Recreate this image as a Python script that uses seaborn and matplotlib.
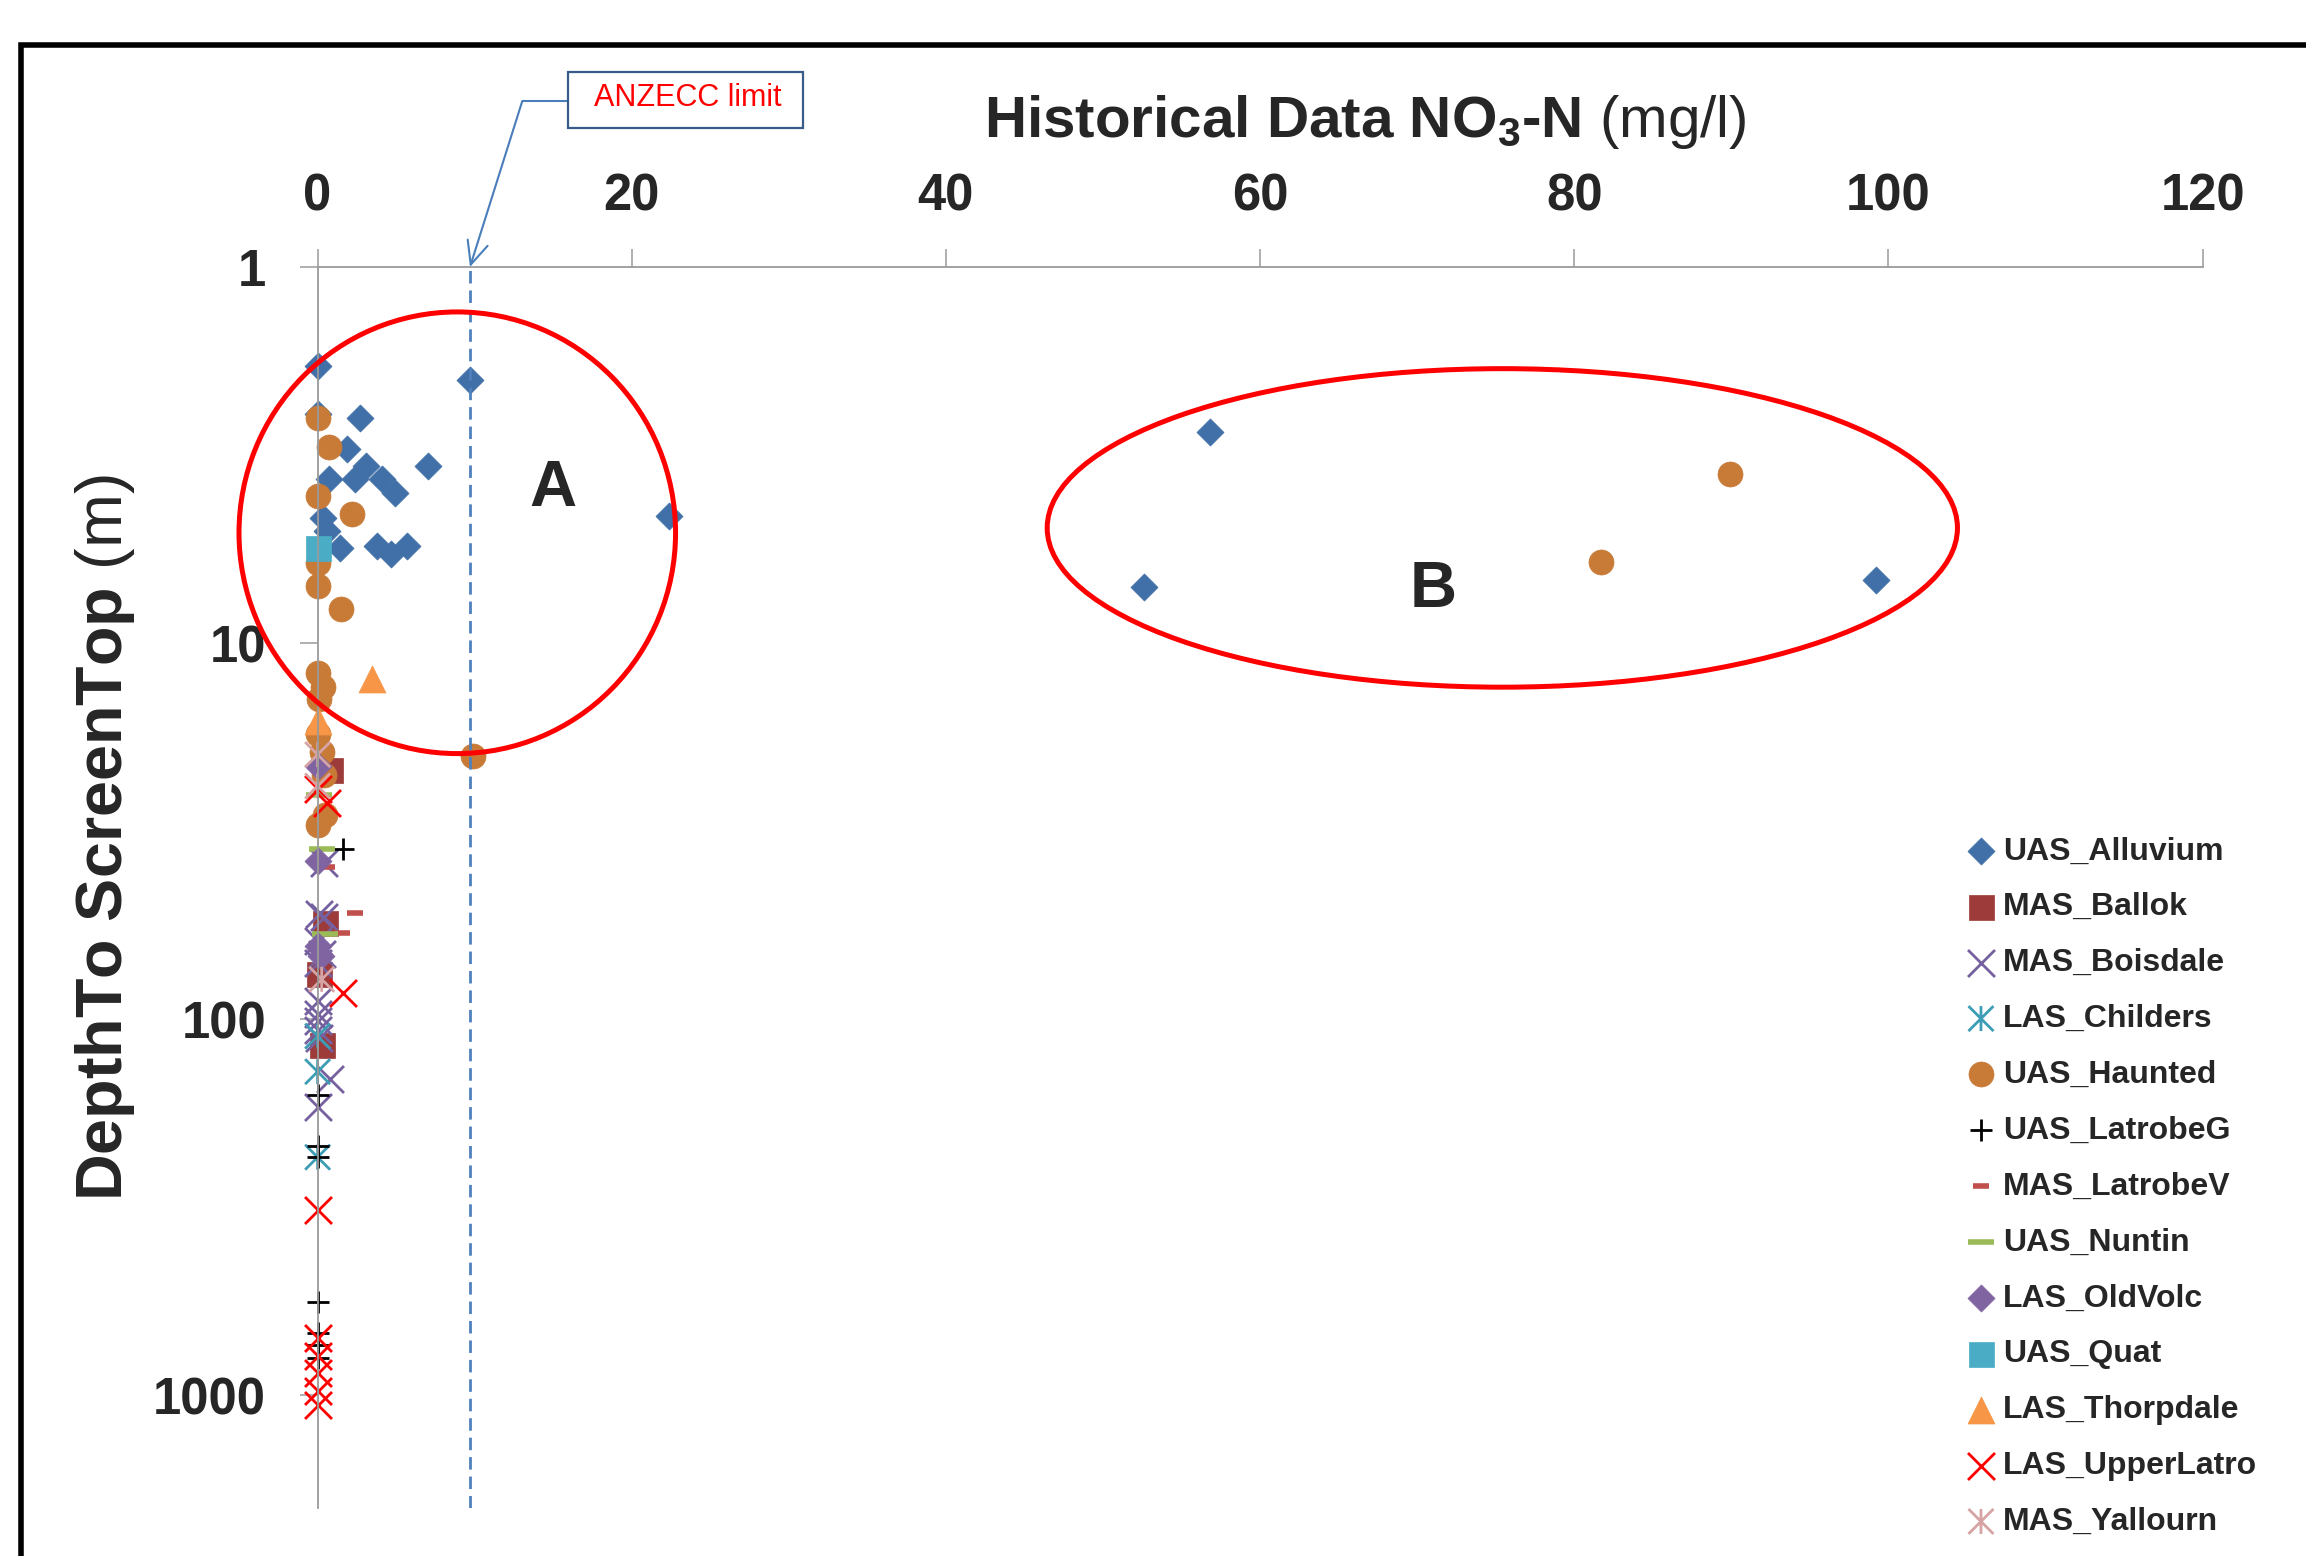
"""
Historical NO3-N vs depth to screen top, grouped by aquifer unit.
"""
import matplotlib
matplotlib.use('Agg')
import matplotlib.pyplot as plt
from matplotlib.patches import Ellipse, Rectangle
from matplotlib.markers import MarkerStyle
from matplotlib.path import Path
from matplotlib.ticker import NullLocator
import seaborn as sns

sns.set_style('white')
FAM = 'Liberation Sans'
plt.rcParams['font.family'] = [FAM, 'DejaVu Sans']
plt.rcParams['mathtext.fontset'] = 'custom'
plt.rcParams['mathtext.rm'] = FAM
plt.rcParams['mathtext.bf'] = FAM + ':bold'
plt.rcParams['mathtext.it'] = FAM + ':italic'

# ---- data (NO3-N mg/l, depth to screen top m) ----
SERIES = ['UAS_Alluvium', 'MAS_Ballok', 'MAS_Boisdale', 'LAS_Childers', 'UAS_Haunted',
          'UAS_LatrobeG', 'MAS_LatrobeV', 'UAS_Nuntin', 'LAS_OldVolc', 'UAS_Quat',
          'LAS_Thorpdale', 'LAS_UpperLatro', 'MAS_Yallourn']

alluvium_x = [0.0, 9.7, 0.0, 2.7, 1.85, 0.7, 2.4, 3.1, 4.1, 4.9, 7.05, 22.4, 0.36, 0.58,
              1.43, 3.76, 4.7, 5.67, 0.2, 56.8, 52.6, 99.2]
alluvium_y = [1.83, 2.0, 2.46, 2.52, 3.05, 3.67, 3.67, 3.38, 3.67, 3.98, 3.38, 4.59, 4.64, 5.04,
              5.58, 5.52, 5.81, 5.52, 5.6, 2.75, 7.1, 6.81]
ballok_x = [0.8, 0.47, 0.1, 0.26]
ballok_y = [21.8, 55.7, 76.0, 117.0]
boisdale_x = [0.4, 0.1, 0.4, 0.0, 0.3, 0.0, 0.0, 0.0, 0.0, 0.0, 0.1, 0.8, 0.0]
boisdale_y = [38.5, 52.7, 53.5, 62.0, 67.0, 71.0, 89.6, 97.0, 101.0, 107.0, 112.0, 144.0, 171.0]
childers_x = [0.0, 0.0, 0.0]
childers_y = [111.0, 138.0, 233.0]
haunted_x = [0.05, 0.7, 0.05, 2.2, 0.05, 0.05, 1.5, 0.05, 0.36, 0.1, 0.0, 0.3, 0.4, 9.9,
             0.5, 0.0, 89.9, 81.7]
haunted_y = [2.52, 3.02, 4.06, 4.54, 6.11, 7.05, 8.13, 12.0, 13.1, 14.1, 17.5, 19.5, 22.5, 20.0,
             28.6, 30.5, 3.56, 6.08]
latrobeg_x = [1.63, 0.0, 0.0, 0.0, 0.0, 0.0, 0.0, 0.0]
latrobeg_y = [35.4, 159.0, 218.0, 233.0, 567.0, 682.0, 736.0, 795.0]
latrobev_x = [0.58, 2.4, 1.53]
latrobev_y = [39.5, 52.2, 58.9]
nuntin_x = [0.1, 0.26, 0.47]
nuntin_y = [25.3, 35.4, 59.3]
oldvolc_x = [0.0, 0.0, 0.0, 0.2]
oldvolc_y = [21.2, 38.0, 64.0, 68.0]
quat_x = [0.05]
quat_y = [5.58]
thorpdale_x = [3.44, 0.0]
thorpdale_y = [12.5, 16.1]
upperlatro_x = [0.0, 0.58, 1.63, 0.0, 0.0, 0.0, 0.0, 0.0, 0.0]
upperlatro_y = [24.5, 26.6, 85.0, 322.0, 705.0, 785.0, 876.0, 976.0, 1064.0]
yallourn_x = [0.0, 0.0, 0.26]
yallourn_y = [19.8, 24.0, 78.4]

# the dashed limit line sits just left of the 10 mark in the original chart
ANZECC_LIMIT = 9.7
X_TICKS = [0, 20, 40, 60, 80, 100, 120]
Y_TICKS = [1, 10, 100, 1000]

XS = [alluvium_x, ballok_x, boisdale_x, childers_x, haunted_x, latrobeg_x, latrobev_x,
      nuntin_x, oldvolc_x, quat_x, thorpdale_x, upperlatro_x, yallourn_x]
YS = [alluvium_y, ballok_y, boisdale_y, childers_y, haunted_y, latrobeg_y, latrobev_y,
      nuntin_y, oldvolc_y, quat_y, thorpdale_y, upperlatro_y, yallourn_y]

# excel style "asterisk": vertical bar plus an x
ASTERISK = MarkerStyle(Path([(0, -1), (0, 1), (-1, -1), (1, 1), (-1, 1), (1, -1)],
                            [Path.MOVETO, Path.LINETO] * 3), fillstyle='none')

# marker, colour, size (pt^2), line width, filled
STYLES = {
    'UAS_Alluvium':   ('D', '#4170A8', 190, 0.5, True),
    'MAS_Ballok':     ('s', '#9C3B39', 324, 0.5, True),
    'MAS_Boisdale':   ('x', '#7560A0', 377, 2.0, False),
    'LAS_Childers':   (ASTERISK, '#3C9DB5', 324, 2.0, False),
    'UAS_Haunted':    ('o', '#C87A37', 324, 0.5, True),
    'UAS_LatrobeG':   ('+', '#000000', 256, 2.0, False),
    'MAS_LatrobeV':   ('_', '#C0504D', 117, 4.0, False),
    'UAS_Nuntin':     ('_', '#9BBB59', 377, 4.0, False),
    'LAS_OldVolc':    ('D', '#8064A2', 190, 0.5, True),
    'UAS_Quat':       ('s', '#4BACC6', 324, 0.5, True),
    'LAS_Thorpdale':  ('^', '#F79646', 377, 0.5, True),
    'LAS_UpperLatro': ('x', '#FF0000', 377, 2.0, False),
    'MAS_Yallourn':   (ASTERISK, '#D6A4A4', 324, 2.0, False),
}
GRAY = '#9A9A9A'

fig = plt.figure(figsize=(23.06, 15.56), dpi=100)
ax = fig.add_axes([0.13773, 0.03066, 0.81743, 0.79775])

for name, xs, ys in zip(SERIES, XS, YS):
    marker, color, size, lw, filled = STYLES[name]
    kws = dict(marker=marker, color=color, s=size, linewidth=lw, clip_on=False)
    if filled:
        kws['edgecolor'] = color
    sns.scatterplot(x=xs, y=ys, ax=ax, label=name, legend=False, **kws)

ax.set_yscale('log')
ax.set_xlim(0, 120)
ax.set_ylim(2000, 1)
ax.xaxis.tick_top()
ax.set_xticks(X_TICKS)
ax.set_xticklabels([str(t) for t in X_TICKS])
ax.set_yticks(Y_TICKS)
ax.set_yticklabels([str(t) for t in Y_TICKS])
ax.yaxis.set_minor_locator(NullLocator())
ax.tick_params(axis='x', top=True, bottom=False, direction='out', length=13, width=1.1,
               color=GRAY, pad=20, labelsize=36.5)
ax.tick_params(axis='y', left=True, direction='out', length=13, width=1.1,
               color=GRAY, pad=24, labelsize=36.5)
for lbl in ax.get_xticklabels() + ax.get_yticklabels():
    lbl.set_fontweight('bold')
for side in ['bottom', 'right']:
    ax.spines[side].set_visible(False)
for side in ['top', 'left']:
    ax.spines[side].set_color(GRAY)
    ax.spines[side].set_linewidth(1.3)
ax.set_xlabel('')
ax.set_ylabel('')

# ANZECC limit line + callout
ax.axvline(ANZECC_LIMIT, color='#4F81BD', lw=2, ls=(0, (4.5, 2.5)), zorder=5)
fig.patches.append(Rectangle((0.2462, 0.91774), 0.1020, 0.03599, transform=fig.transFigure,
                             fill=False, ec='#385D8A', lw=1.6))
fig.text(0.29814, 0.93676, 'ANZECC limit', color='red', fontsize=22, ha='center', va='center')
ax.annotate('', xy=(ANZECC_LIMIT, 1), xycoords='data',
            xytext=(567.7, 1556 - 101), textcoords='figure pixels', annotation_clip=False,
            arrowprops=dict(arrowstyle='->,head_length=0.55,head_width=0.25',
                            connectionstyle='angle,angleA=0,angleB=72.5,rad=0',
                            color='#4A7EBB', lw=1.5, shrinkA=0, shrinkB=0, mutation_scale=30))

# groups A and B
ax.add_patch(Ellipse((0.0741, 0.7859), 0.2316, 0.3558, transform=ax.transAxes, fill=False,
                     ec='red', lw=3.6, clip_on=False, zorder=6))
ax.add_patch(Ellipse((0.6285, 0.7898), 0.4829, 0.2566, transform=ax.transAxes, fill=False,
                     ec='red', lw=3.6, clip_on=False, zorder=6))
ax.text(15, 4.32, 'A', fontsize=47, fontweight='bold', ha='center', va='baseline')
ax.text(71, 8.0, 'B', fontsize=47, fontweight='bold', ha='center', va='baseline')

# titles
fig.text(0.4267, 0.9120, r'Historical Data NO$_\mathbf{3}$-N $\mathrm{(mg/l)}$', fontsize=42,
         fontweight='bold', ha='left', va='baseline')
fig.text(0.0529, 0.2281, r'DepthTo ScreenTop $\mathrm{(m)}$', fontsize=46.5, fontweight='bold',
         rotation=90, rotation_mode='anchor', ha='left', va='baseline')

handles, labels = ax.get_legend_handles_labels()
fig.legend(handles, labels, loc='upper left', bbox_to_anchor=(0.8524, 0.4625), frameon=False,
           prop={'weight': 'bold', 'size': 23}, handlelength=0.96, handletextpad=0.21,
           labelspacing=0.81, borderpad=0, borderaxespad=0, scatterpoints=1)

# outer chart frame (cropped at right and bottom)
fig.patches.append(Rectangle((0.0093, -0.5), 2.0, 0.97076 + 0.5, transform=fig.transFigure,
                             fill=False, ec='black', lw=4))

fig.savefig('out.png', dpi=100)
